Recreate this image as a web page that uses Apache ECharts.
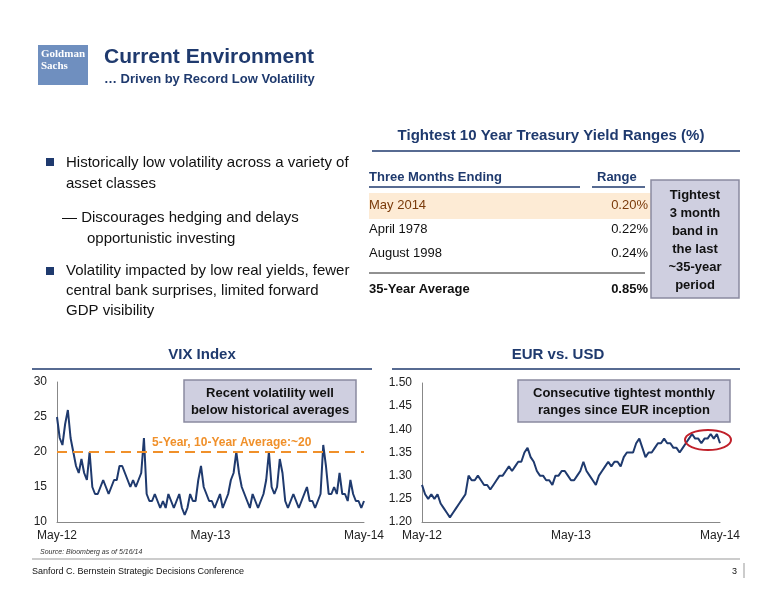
<!DOCTYPE html>
<html><head><meta charset="utf-8">
<script src="https://cdn.jsdelivr.net/npm/echarts@6/dist/echarts.min.js"></script>
<style>html,body{margin:0;padding:0;background:#fff}#c{width:776px;height:600px}</style>
</head><body><div id="c"></div>
<script>
// weekly closes, May-12 .. May-14
const vixValues = [25,22,21,24,26,22,20,18,17,19,17,16,20,15,14,14,15,16,15,14,15,16,16,18,18,17,16,15,16,15,16,17,22,14,13,13,14,13,12,13,12,14,13,12,13,14,12,11,12,14,13,13,16,18,15,14,13,13,12,13,14,12,13,14,16,17,20,17,15,14,13,12,14,13,12,13,14,16,20,15,14,15,19,17,13,12,13,14,13,12,13,14,15,13,13,12,13,14,21,18,14,14,15,14,17,14,14,13,16,14,13,13,12,13];
const eurValues = [1.28,1.26,1.25,1.26,1.25,1.26,1.24,1.23,1.22,1.21,1.22,1.23,1.24,1.25,1.26,1.30,1.29,1.29,1.30,1.29,1.28,1.28,1.27,1.28,1.29,1.30,1.30,1.31,1.32,1.31,1.32,1.33,1.33,1.35,1.36,1.34,1.33,1.31,1.30,1.30,1.29,1.29,1.28,1.30,1.30,1.31,1.31,1.30,1.29,1.29,1.30,1.31,1.33,1.31,1.30,1.29,1.28,1.30,1.31,1.32,1.33,1.32,1.33,1.33,1.32,1.34,1.35,1.35,1.35,1.37,1.38,1.36,1.34,1.35,1.35,1.36,1.37,1.37,1.38,1.37,1.37,1.36,1.36,1.35,1.36,1.37,1.38,1.39,1.38,1.38,1.37,1.38,1.38,1.39,1.38,1.39,1.37];
const xLabels = ['May-12','May-13','May-14'];
const vixTicks = [10,15,20,25,30];
const eurTicks = [1.20,1.25,1.30,1.35,1.40,1.45,1.50];
const tableRows = [['May 2014','0.20%'],['April 1978','0.22%'],['August 1998','0.24%']];
const tableAvg = ['35-Year Average','0.85%'];
const vixAverage = 20;

const navy = '#1f3a6e';
const font = 'Liberation Sans, Arial, sans-serif';
const chart = echarts.init(document.getElementById('c'));

const pts = arr => arr.map((v, i) => [i / (arr.length - 1) * 2, v]);
const xAxis = (gi) => ({
  type: 'value', gridIndex: gi, min: 0, max: 2, interval: 1,
  axisLine: {show: true, lineStyle: {color: '#888'}}, axisTick: {show: false}, splitLine: {show: false},
  axisLabel: {color: '#222', fontSize: 12, fontFamily: font, formatter: v => xLabels[v] || '', margin: 8,
    alignMinLabel: 'center', alignMaxLabel: 'center'}
});
const yAxis = (gi, ticks, dec) => ({
  type: 'value', gridIndex: gi, min: ticks[0], max: ticks[ticks.length - 1], interval: ticks[1] - ticks[0],
  axisLine: {show: true, lineStyle: {color: '#888'}}, axisTick: {show: false}, splitLine: {show: false},
  axisLabel: {color: '#222', fontSize: 12, fontFamily: font, formatter: v => v.toFixed(dec), margin: 10}
});

const T = (x, y, text, o) => ({type: 'text', z: 20, style: Object.assign({x, y, text, fill: '#111', font: '15px ' + font, verticalAlign: 'top'}, o || {})});
const line = (x1, y1, x2, y2, c, w) => ({type: 'line', shape: {x1, y1, x2, y2}, style: {stroke: c || navy, lineWidth: w || 1}});
const box = (x, y, w, h) => ({type: 'rect', z: 15, shape: {x, y, width: w, height: h}, style: {fill: '#cfcfe0', stroke: '#8a8aa0', lineWidth: 1.5}});

const graphic = [
  {type: 'rect', shape: {x: 369, y: 193, width: 290, height: 26}, style: {fill: '#fdebd5'}},
  {type: 'rect', shape: {x: 38, y: 45, width: 50, height: 40}, style: {fill: '#6f8fbf'}},
  T(41, 48, 'Goldman\nSachs', {fill: '#fff', font: 'bold 11px Liberation Serif, serif', lineHeight: 12}),
  T(104, 47, 'Current Environment', {fill: navy, font: 'bold 21px ' + font}),
  T(104, 73, '… Driven by Record Low Volatility', {fill: navy, font: 'bold 13px ' + font}),
  {type: 'rect', shape: {x: 46, y: 158, width: 8, height: 8}, style: {fill: navy}},
  T(66, 152, 'Historically low volatility across a variety of\nasset classes', {lineHeight: 21}),
  T(62, 207, '— Discourages hedging and delays\n      opportunistic investing', {lineHeight: 21}),
  {type: 'rect', shape: {x: 46, y: 267, width: 8, height: 8}, style: {fill: navy}},
  T(66, 261, 'Volatility impacted by low real yields, fewer\ncentral bank surprises, limited forward\nGDP visibility', {lineHeight: 20}),
  T(551, 128, 'Tightest 10 Year Treasury Yield Ranges (%)', {fill: navy, font: 'bold 15px ' + font, align: 'center'}),
  line(372, 151, 740, 151, navy, 1.5),
  T(369, 171, 'Three Months Ending', {fill: navy, font: 'bold 13px ' + font}),
  T(597, 171, 'Range', {fill: navy, font: 'bold 13px ' + font}),
  line(369, 187, 580, 187, navy, 1.5), line(592, 187, 645, 187, navy, 1.5),
  line(369, 273, 645, 273, '#222', 1),
  T(369, 283, tableAvg[0], {font: 'bold 13px ' + font}),
  T(648, 283, tableAvg[1], {font: 'bold 13px ' + font, align: 'right'}),
  box(651, 180, 88, 118),
  T(695, 186, 'Tightest\n3 month\nband in\nthe last\n~35-year\nperiod', {font: 'bold 13px ' + font, align: 'center', lineHeight: 18}),
  T(202, 347, 'VIX Index', {fill: navy, font: 'bold 15px ' + font, align: 'center'}),
  line(32, 369, 372, 369, navy, 1.5),
  T(558, 347, 'EUR vs. USD', {fill: navy, font: 'bold 15px ' + font, align: 'center'}),
  line(392, 369, 740, 369, navy, 1.5),
  box(184, 380, 172, 42),
  T(270, 385, 'Recent volatility well\nbelow historical averages', {font: 'bold 13px ' + font, align: 'center', lineHeight: 17}),
  box(518, 380, 212, 42),
  T(624, 385, 'Consecutive tightest monthly\nranges since EUR inception', {font: 'bold 13px ' + font, align: 'center', lineHeight: 17}),
  {type: 'ellipse', shape: {cx: 708, cy: 440, rx: 23, ry: 10}, style: {fill: 'none', stroke: '#c0202a', lineWidth: 2}, z: 10},
  T(40, 549, 'Source: Bloomberg as of 5/16/14', {font: 'italic 7px ' + font, fill: '#333'}),
  line(32, 559, 740, 559, '#999', 1),
  T(32, 567, 'Sanford C. Bernstein Strategic Decisions Conference', {font: '9px ' + font}),
  T(732, 567, '3', {font: '9px ' + font}),
  line(744, 563, 744, 578, '#999', 1)
];
tableRows.forEach((r, i) => {
  const y = 199 + i * 24;
  graphic.push(T(369, y, r[0], {font: '13px ' + font, fill: i === 0 ? '#7a3a0a' : '#111'}));
  graphic.push(T(648, y, r[1], {font: '13px ' + font, align: 'right', fill: i === 0 ? '#7a3a0a' : '#111'}));
});

chart.setOption({
  animation: false,
  grid: [
    {left: 57, top: 382, width: 307, height: 140},
    {left: 422, top: 383, width: 298, height: 139}
  ],
  xAxis: [xAxis(0), xAxis(1)],
  yAxis: [yAxis(0, vixTicks, 0), yAxis(1, eurTicks, 2)],
  series: [
    {type: 'line', xAxisIndex: 0, yAxisIndex: 0, data: pts(vixValues), showSymbol: false,
      lineStyle: {color: navy, width: 2},
      markLine: {silent: true, symbol: 'none', data: [{yAxis: vixAverage}],
        lineStyle: {color: '#f0902a', type: [10, 6], width: 2},
        label: {show: true, position: 'insideStartTop', formatter: '5-Year, 10-Year Average:~20', color: '#f0902a',
          fontFamily: font, fontWeight: 'bold', fontSize: 12, distance: [95, 3]}}},
    {type: 'line', xAxisIndex: 1, yAxisIndex: 1, data: pts(eurValues), showSymbol: false,
      lineStyle: {color: navy, width: 2}}
  ],
  graphic
});
</script></body></html>
